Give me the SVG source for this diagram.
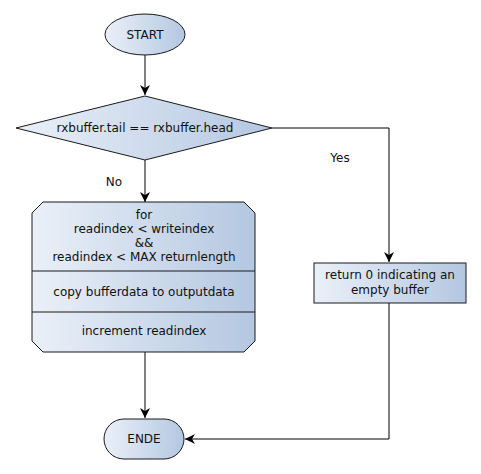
<svg xmlns="http://www.w3.org/2000/svg" width="481" height="474" viewBox="0 0 481 474">
<defs>
<linearGradient id="g" x1="0" y1="0" x2="1" y2="0">
<stop offset="0" stop-color="#eaf0f8"/>
<stop offset="1" stop-color="#b4c7e1"/>
</linearGradient>
<marker id="ah" viewBox="0 0 10 10" refX="10" refY="5" markerWidth="10" markerHeight="10" markerUnits="userSpaceOnUse" orient="auto">
<path d="M0,0 L10,5 L0,10 L3,5 z" fill="#000"/>
</marker>
</defs>
<style>
.s{fill:url(#g);stroke:#1a1a1a;stroke-width:1}
.t{font-family:"DejaVu Sans",sans-serif;font-size:12px;fill:#111;text-anchor:middle;dominant-baseline:central}
.c{fill:none;stroke:#000;stroke-width:1}
.a{marker-end:url(#ah)}
</style>
<rect width="481" height="474" fill="#fff"/>
<g id="connectors">
<path class="c a" d="M145,55 V95"/>
<path class="c a" d="M145,160 V202"/>
<path class="c a" d="M272,128 H389 V262"/>
<path class="c a" d="M145,352 V418"/>
<path class="c a" d="M389,303 V439 H185"/>
<text class="t" x="340" y="158">Yes</text>
<text class="t" x="114" y="182">No</text>
</g>
<g id="start">
<ellipse class="s" cx="145" cy="34.5" rx="40" ry="20.5"/>
<text class="t" x="145" y="34.5">START</text>
</g>
<g id="decision">
<polygon class="s" points="145,96 272,128 145,160 16,128"/>
<text class="t" x="145" y="128">rxbuffer.tail == rxbuffer.head</text>
</g>
<g id="loop">
<polygon class="s" points="43,202 244,202 255,213 255,341 244,352 43,352 32,341 32,213"/>
<line x1="32" y1="271" x2="255" y2="271" stroke="#1a1a1a"/>
<line x1="32" y1="312" x2="255" y2="312" stroke="#1a1a1a"/>
<text class="t" x="144" y="215">for</text>
<text class="t" x="144" y="229">readindex &lt; writeindex</text>
<text class="t" x="144" y="243">&amp;&amp;</text>
<text class="t" x="144" y="257">readindex &lt; MAX returnlength</text>
<text class="t" x="144" y="292">copy bufferdata to outputdata</text>
<text class="t" x="144" y="331">increment readindex</text>
</g>
<g id="return">
<rect class="s" x="314" y="263" width="152" height="40"/>
<text class="t" x="390" y="275">return 0 indicating an</text>
<text class="t" x="390" y="290">empty buffer</text>
</g>
<g id="end">
<rect class="s" x="104" y="419" width="80" height="40" rx="20" ry="20"/>
<text class="t" x="144" y="439">ENDE</text>
</g>
</svg>
